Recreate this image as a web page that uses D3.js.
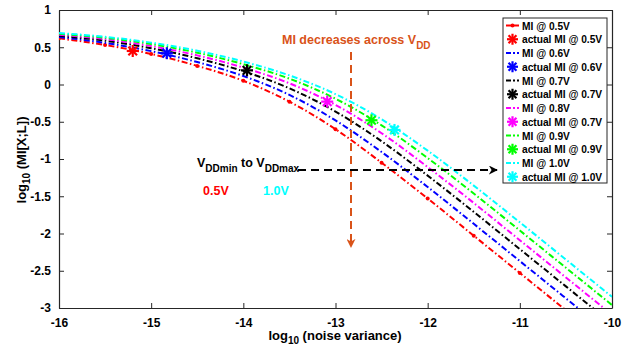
<!DOCTYPE html>
<html>
<head>
<meta charset="utf-8">
<script src="https://cdn.jsdelivr.net/npm/d3@7"></script>
<style>
  body { margin: 0; background: #fff; }
  svg { font-family: "Liberation Sans", Arial, Helvetica, sans-serif; font-weight: bold; }
</style>
</head>
<body>
<svg width="633" height="348"></svg>
<script>
const X_VALUES = [-16, -15.5, -15, -14.5, -14, -13.5, -13, -12.5, -12, -11.5, -11, -10.5, -10];

const MI_05 = [0.62, 0.53, 0.41, 0.25, 0.05, -0.23, -0.6, -1.05, -1.53, -2.03, -2.53, -3.03, -3.53];
const MI_06 = [0.638, 0.559, 0.448, 0.301, 0.114, -0.14, -0.482, -0.906, -1.376, -1.87, -2.37, -2.87, -3.37];
const MI_07 = [0.655, 0.588, 0.487, 0.352, 0.178, -0.051, -0.363, -0.762, -1.223, -1.71, -2.21, -2.71, -3.21];
const MI_08 = [0.668, 0.609, 0.516, 0.391, 0.226, 0.016, -0.274, -0.654, -1.108, -1.59, -2.09, -2.59, -3.09];
const MI_09 = [0.681, 0.628, 0.543, 0.427, 0.272, 0.078, -0.191, -0.548, -0.987, -1.463, -1.96, -2.46, -2.96];
const MI_10 = [0.691, 0.64, 0.562, 0.453, 0.308, 0.122, -0.129, -0.467, -0.888, -1.357, -1.85, -2.35, -2.85];

// actual MI points (x, y)
const ACTUAL_X = [-15.2, -14.83, -13.96, -13.09, -12.61, -12.36];
const ACTUAL_Y = [0.45, 0.42, 0.19, -0.23, -0.48, -0.61];

const SERIES_NAMES = ["0.5V", "0.6V", "0.7V", "0.8V", "0.9V", "1.0V"];
const ACTUAL_NAMES = ["0.5V", "0.6V", "0.7V", "0.7V", "0.9V", "1.0V"];
const COLORS = ["#ff0000", "#0000ff", "#000000", "#ff00ff", "#00ff00", "#00ffff"];
const SERIES = [MI_05, MI_06, MI_07, MI_08, MI_09, MI_10];

const X_TICKS = [-16, -15, -14, -13, -12, -11, -10];
const Y_TICKS = [1, 0.5, 0, -0.5, -1, -1.5, -2, -2.5, -3];

const MARGIN = { top: 10, right: 21, bottom: 40, left: 59 };
const WIDTH = 633 - MARGIN.left - MARGIN.right;
const HEIGHT = 348 - MARGIN.top - MARGIN.bottom;
const AXIS_COLOR = "#262626";
const ORANGE = "#d95319";

const xScale = d3.scaleLinear().domain([-16, -10]).range([0, WIDTH]);
const yScale = d3.scaleLinear().domain([-3, 1]).range([HEIGHT, 0]);

const svg = d3.select("svg");

svg.append("defs").append("clipPath").attr("id", "clip")
  .append("rect").attr("width", WIDTH).attr("height", HEIGHT);

const chart = svg.append("g").attr("transform", `translate(${MARGIN.left},${MARGIN.top})`);

//axes
const styleAxis = (g) => {
  g.attr("color", AXIS_COLOR).attr("font-size", 12).attr("font-family", null).attr("font-weight", "bold");
  g.selectAll("text").attr("fill", "#000");
};
const plainNum = (d) => String(d);

chart.append("g")
  .attr("transform", `translate(0,${HEIGHT})`)
  .call(d3.axisBottom(xScale).tickValues(X_TICKS).tickSizeInner(-5).tickSizeOuter(0).tickPadding(10).tickFormat(plainNum))
  .call(styleAxis);
chart.append("g")
  .call(d3.axisTop(xScale).tickValues(X_TICKS).tickSizeInner(-5).tickSizeOuter(0).tickFormat(""))
  .call(styleAxis);
chart.append("g")
  .call(d3.axisLeft(yScale).tickValues(Y_TICKS).tickSizeInner(-5).tickSizeOuter(0).tickPadding(8).tickFormat(plainNum))
  .call(styleAxis);
chart.append("g")
  .attr("transform", `translate(${WIDTH},0)`)
  .call(d3.axisRight(yScale).tickValues(Y_TICKS).tickSizeInner(-5).tickSizeOuter(0).tickFormat(""))
  .call(styleAxis);
chart.selectAll(".domain").attr("stroke-width", 1.2);

//curves
const line = d3.line()
  .x((d) => xScale(d[0]))
  .y((d) => yScale(d[1]))
  .curve(d3.curveMonotoneX);

const plot = chart.append("g").attr("clip-path", "url(#clip)");

SERIES.forEach((vals, i) => {
  const pts = X_VALUES.map((x, j) => [x, vals[j]]);
  plot.append("path")
    .datum(pts)
    .attr("fill", "none")
    .attr("stroke", COLORS[i])
    .attr("stroke-width", 2)
    .attr("stroke-dasharray", "6,2.5,1.5,2.5")
    .attr("d", line);
  if (i === 0) {
    plot.selectAll(".reddot")
      .data(pts)
      .enter()
      .append("circle")
      .attr("cx", (d) => xScale(d[0]))
      .attr("cy", (d) => yScale(d[1]))
      .attr("r", 2)
      .attr("fill", COLORS[0]);
  }
});

//asterisk markers
const asterisk = (g, cx, cy, color, r) => {
  const d = r * 0.72;
  const segs = [[-r, 0, r, 0], [0, -r, 0, r], [-d, -d, d, d], [-d, d, d, -d]];
  segs.forEach((s) => {
    g.append("line")
      .attr("x1", cx + s[0]).attr("y1", cy + s[1])
      .attr("x2", cx + s[2]).attr("y2", cy + s[3])
      .attr("stroke", color).attr("stroke-width", 2.2);
  });
};
ACTUAL_X.forEach((x, i) => asterisk(chart, xScale(x), yScale(ACTUAL_Y[i]), COLORS[i], 6));

//annotations
const ann = chart.append("g").attr("font-size", 12.5);

const t1 = ann.append("text").attr("x", 282 - MARGIN.left).attr("y", 44 - MARGIN.top).attr("fill", ORANGE);
t1.append("tspan").text("MI decreases across V");
t1.append("tspan").attr("dy", 5).attr("font-size", 10).text("DD");

svg.append("defs").selectAll("marker")
  .data([["arrO", ORANGE], ["arrK", "#000"]])
  .enter()
  .append("marker")
  .attr("id", (d) => d[0])
  .attr("viewBox", "0 0 10 10")
  .attr("refX", 9).attr("refY", 5)
  .attr("markerWidth", 4.5).attr("markerHeight", 4.5)
  .attr("orient", "auto")
  .attr("markerUnits", "strokeWidth")
  .append("path")
  .attr("d", "M0,0 L10,5 L0,10 L3,5 Z")
  .attr("fill", (d) => d[1]);

ann.append("line")
  .attr("x1", 351 - MARGIN.left).attr("y1", 52 - MARGIN.top)
  .attr("x2", 351 - MARGIN.left).attr("y2", 247 - MARGIN.top)
  .attr("stroke", ORANGE).attr("stroke-width", 2)
  .attr("stroke-dasharray", "8,5")
  .attr("marker-end", "url(#arrO)");

const t2 = ann.append("text").attr("x", 197 - MARGIN.left).attr("y", 167 - MARGIN.top).attr("fill", "#000");
t2.append("tspan").text("V");
t2.append("tspan").attr("dy", 5).attr("font-size", 10).text("DDmin");
t2.append("tspan").attr("dy", -5).text(" to V");
t2.append("tspan").attr("dy", 5).attr("font-size", 10).text("DDmax");

ann.append("line")
  .attr("x1", 298 - MARGIN.left).attr("y1", 170 - MARGIN.top)
  .attr("x2", 497 - MARGIN.left).attr("y2", 170 - MARGIN.top)
  .attr("stroke", "#000").attr("stroke-width", 2)
  .attr("stroke-dasharray", "8,5")
  .attr("marker-end", "url(#arrK)");

ann.append("text").attr("x", 203 - MARGIN.left).attr("y", 195 - MARGIN.top).attr("fill", COLORS[0]).text("0.5V");
ann.append("text").attr("x", 263 - MARGIN.left).attr("y", 195 - MARGIN.top).attr("fill", COLORS[5]).text("1.0V");

//axis labels
const xl = svg.append("text").attr("x", 335).attr("y", 340).attr("text-anchor", "middle").attr("font-size", 13);
xl.append("tspan").text("log");
xl.append("tspan").attr("dy", 4).attr("font-size", 10).text("10");
xl.append("tspan").attr("dy", -4).text(" (noise variance)");

const yl = svg.append("text").attr("transform", "translate(26,160) rotate(-90)").attr("text-anchor", "middle").attr("font-size", 13);
yl.append("tspan").text("log");
yl.append("tspan").attr("dy", 4).attr("font-size", 10).text("10");
yl.append("tspan").attr("dy", -4).text(" (MI[X;L])");

//legend
const LEG_X = 503, LEG_Y = 18, LEG_W = 104, LEG_H = 165, ROW = 13.75;
const legend = svg.append("g").attr("transform", `translate(${LEG_X},${LEG_Y})`);
legend.append("rect").attr("width", LEG_W).attr("height", LEG_H)
  .attr("fill", "#fff").attr("stroke", AXIS_COLOR).attr("stroke-width", 1);

const rows = [];
SERIES_NAMES.forEach((n, i) => {
  rows.push({ type: "line", label: "MI @ " + n, color: COLORS[i], red: i === 0 });
  rows.push({ type: "star", label: "actual MI @ " + ACTUAL_NAMES[i], color: COLORS[i] });
});

rows.forEach((r, i) => {
  const cy = 7.5 + i * ROW;
  if (r.type === "line") {
    legend.append("line")
      .attr("x1", 3).attr("x2", 16).attr("y1", cy).attr("y2", cy)
      .attr("stroke", r.color).attr("stroke-width", 2)
      .attr("stroke-dasharray", r.red ? null : "5,2,2,2");
    if (r.red) legend.append("circle").attr("cx", 9.5).attr("cy", cy).attr("r", 2).attr("fill", r.color);
  } else {
    asterisk(legend, 9.5, cy, r.color, 5.5);
  }
  legend.append("text").attr("x", 19).attr("y", cy + 4).attr("font-size", 10.2).text(r.label);
});
</script>
</body>
</html>
